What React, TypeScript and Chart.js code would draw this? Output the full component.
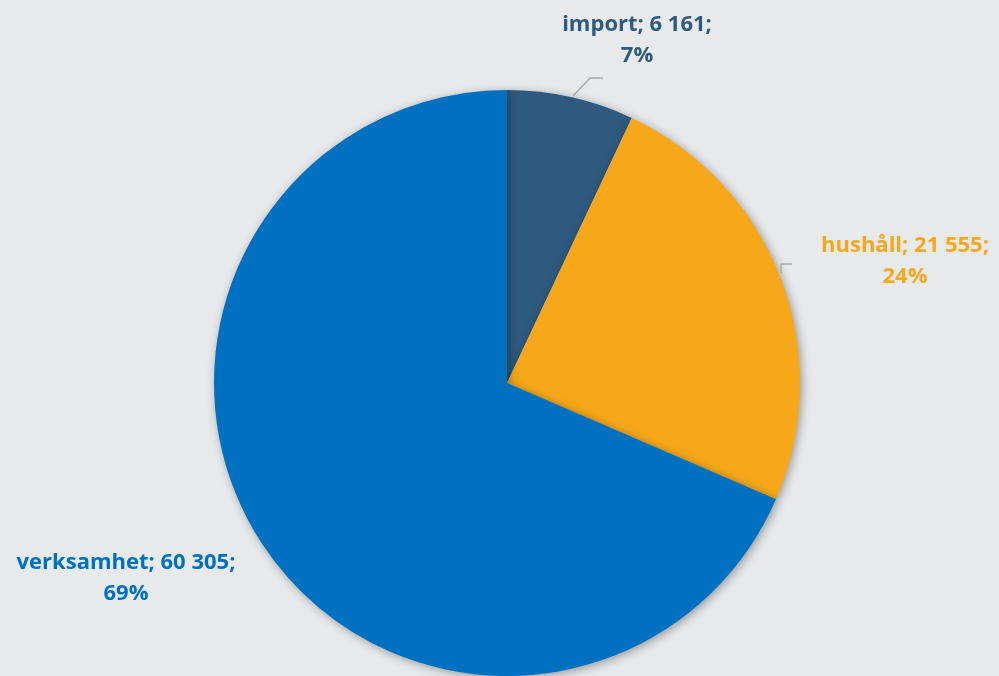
import React, { useEffect, useRef } from "react";
import { Chart, registerables } from "chart.js";

Chart.register(...registerables);

const categories = ["import", "hushåll", "verksamhet"];
const values = [6161, 21555, 60305];
const percentLabels = ["7%", "24%", "69%"];
const valueLabels = ["6 161", "21 555", "60 305"];
const colors = ["#2f5a7f", "#f6a81a", "#0070c0"];

// label placement (style): label centre and leader geometry
const labelPos = [
  { x: 637, y: 25, leader: [[573, 96], [590, 78], [603, 78]] },
  { x: 905, y: 246, leader: [[781, 273], [781, 264], [792, 264]] },
  { x: 126, y: 563, leader: null },
];

const labelPlugin = {
  id: "pieLabels",
  beforeDatasetsDraw(chart: any) {
    const ctx = chart.ctx;
    ctx.save();
    ctx.shadowColor = "rgba(0,0,0,0.35)";
    ctx.shadowBlur = 10;
    ctx.shadowOffsetX = 2;
    ctx.shadowOffsetY = 2;
  },
  afterDatasetsDraw(chart: any) {
    const ctx = chart.ctx;
    ctx.restore();
    ctx.save();
    const meta = chart.getDatasetMeta(0);
    meta.data.forEach((arc: any, i: number) => {
      const p = labelPos[i];
      if (p.leader) {
        ctx.strokeStyle = "#a6a6a6";
        ctx.lineWidth = 1.3;
        ctx.beginPath();
        p.leader.forEach((pt: number[], k: number) => {
          if (k === 0) ctx.moveTo(pt[0], pt[1]);
          else ctx.lineTo(pt[0], pt[1]);
        });
        ctx.stroke();
      }
      ctx.fillStyle = colors[i];
      ctx.font = "bold 22px 'Open Sans'";
      ctx.textAlign = "center";
      ctx.textBaseline = "middle";
      ctx.fillText(`${categories[i]}; ${valueLabels[i]};`, p.x, p.y);
      ctx.fillText(percentLabels[i], p.x, p.y + 31);
    });
    ctx.restore();
  },
};

export default function App() {
  const ref = useRef<HTMLCanvasElement>(null);
  useEffect(() => {
    document.body.style.margin = "0";
    const chart = new Chart(ref.current!, {
      type: "pie",
      data: {
        labels: categories,
        datasets: [
          {
            data: values,
            backgroundColor: colors,
            borderWidth: 0,
          },
        ],
      },
      options: {
        animation: false,
        responsive: false,
        layout: { padding: { top: 90, bottom: 0, left: 214, right: 199 } },
        plugins: { legend: { display: false }, tooltip: { enabled: false } },
      },
      plugins: [labelPlugin],
    });
    return () => chart.destroy();
  }, []);
  return (
    <div style={{ width: 999, height: 676, background: "#e8e9eb", overflow: "hidden" }}>
      <canvas ref={ref} width={999} height={676} style={{ display: "block" }} />
    </div>
  );
}
